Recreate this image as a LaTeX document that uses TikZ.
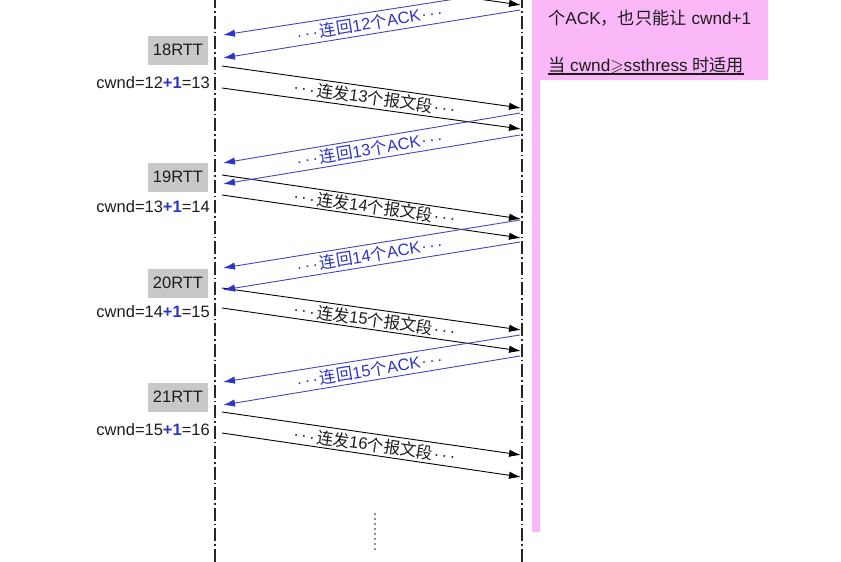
\documentclass[tikz,border=0pt]{standalone}
\usepackage{fontspec}
\usepackage{amssymb}
\setmainfont{Liberation Sans}
\newfontfamily\cjk{Noto Sans CJK SC}
\usetikzlibrary{arrows.meta}
\definecolor{ackblue}{RGB}{45,52,200}
\definecolor{ackline}{RGB}{68,68,190}
\definecolor{pinkbg}{RGB}{250,184,248}
\definecolor{rttgray}{RGB}{200,200,200}
\definecolor{txt}{RGB}{28,28,28}
\newcommand\tdots{\kern1pt·\kern2.5pt·\kern2.5pt·\kern2pt}
\begin{document}
\begin{tikzpicture}[x=1pt,y=-1pt,
  font=\fontsize{16.5}{20}\selectfont,
  lifeline/.style={line width=1.2pt, dash pattern=on 13pt off 3pt on 1.5pt off 3pt, black!85},
  sendarrow/.style={line width=0.9pt, black, -{Latex[length=12pt,width=7.5pt]}},
  ackarrow/.style={line width=0.9pt, ackline, -{Latex[length=12pt,width=7.5pt,color=ackblue]}},
  rttbox/.style={fill=rttgray, minimum width=60pt, minimum height=29pt, inner sep=0pt, text=txt},
  cwndlabel/.style={anchor=east, inner sep=0pt, text=txt},
  sendlabel/.style={rotate=-8, inner sep=0pt, text=txt},
  acklabel/.style={rotate=9.3, inner sep=0pt, text=ackblue},
  notetext/.style={anchor=base west, inner sep=0pt, text=txt, font=\fontsize{17.2}{20}\selectfont}]
\useasboundingbox (0,0) rectangle (841,562);
\clip (0,0) rectangle (841,562);

% pink note area
\fill[pinkbg] (532,-2) -- (768,-2) -- (768,80) -- (540,80) -- (540,532) -- (532,532) -- cycle;
\node[notetext] (note1) at (548,24) {{\cjk 个}ACK{\cjk ，也只能让} cwnd+1};
\node[notetext] (note2) at (548,71) {{\cjk 当} cwnd$\geqslant$ssthress {\cjk 时适用}};
\draw[line width=1.3pt, txt] ([yshift=-3pt]note2.base west) -- ([yshift=-3pt]note2.base east);

% lifelines
\coordinate (LT) at (215,-5);
\coordinate (LB) at (215,570);
\coordinate (RT) at (522,-5);
\coordinate (RB) at (522,570);
\draw[lifeline] (LT) -- (LB);
\draw[lifeline] (RT) -- (RB);

% RTT boxes and cwnd labels
\node[rttbox] (r18) at (178,50) {18RTT};
\node[rttbox] (r19) at (178,177) {19RTT};
\node[rttbox] (r20) at (178,283) {20RTT};
\node[rttbox] (r21) at (178,397) {21RTT};
\node[cwndlabel] (c18) at (210,83) {cwnd=12{\color{ackblue}\bfseries +1}=13};
\node[cwndlabel] (c19) at (210,207) {cwnd=13{\color{ackblue}\bfseries +1}=14};
\node[cwndlabel] (c20) at (210,312) {cwnd=14{\color{ackblue}\bfseries +1}=15};
\node[cwndlabel] (c21) at (210,430) {cwnd=15{\color{ackblue}\bfseries +1}=16};

% send endpoints
\coordinate (s17b) at (222,-37); \coordinate (e17b) at (521,5);
\coordinate (s18a) at (222,66);  \coordinate (e18a) at (521,108);
\coordinate (s18b) at (222,88);  \coordinate (e18b) at (521,129);
\coordinate (s19a) at (222,175); \coordinate (e19a) at (521,219);
\coordinate (s19b) at (222,195); \coordinate (e19b) at (521,238);
\coordinate (s20a) at (222,288); \coordinate (e20a) at (521,330);
\coordinate (s20b) at (222,308); \coordinate (e20b) at (521,351);
\coordinate (s21a) at (222,412); \coordinate (e21a) at (521,455);
\coordinate (s21b) at (222,433); \coordinate (e21b) at (521,477);
\foreach \n in {17b,18a,18b,19a,19b,20a,20b,21a,21b}
  \draw[sendarrow] (s\n) -- (e\n);

% ack endpoints
\coordinate (a12a) at (520,-11); \coordinate (b12a) at (223,35);
\coordinate (a12b) at (520,10);  \coordinate (b12b) at (223,58);
\coordinate (a13a) at (520,113); \coordinate (b13a) at (223,163);
\coordinate (a13b) at (520,135); \coordinate (b13b) at (223,184);
\coordinate (a14a) at (520,220); \coordinate (b14a) at (223,268);
\coordinate (a14b) at (520,242); \coordinate (b14b) at (223,290);
\coordinate (a15a) at (520,335); \coordinate (b15a) at (223,382);
\coordinate (a15b) at (520,356); \coordinate (b15b) at (223,405);
\foreach \n in {12a,12b,13a,13b,14a,14b,15a,15b}
  \draw[ackarrow] (a\n) -- (b\n);

% labels
\node[acklabel] (l12) at (370,23) {\tdots{\cjk 连回}12{\cjk 个}ACK\tdots};
\node[sendlabel] (l13) at (375,98) {\tdots{\cjk 连发}13{\cjk 个报文段}\tdots};
\node[acklabel] (l13a) at (370,149) {\tdots{\cjk 连回}13{\cjk 个}ACK\tdots};
\node[sendlabel] (l14) at (375,207) {\tdots{\cjk 连发}14{\cjk 个报文段}\tdots};
\node[acklabel] (l14a) at (370,255) {\tdots{\cjk 连回}14{\cjk 个}ACK\tdots};
\node[sendlabel] (l15) at (375,320) {\tdots{\cjk 连发}15{\cjk 个报文段}\tdots};
\node[acklabel] (l15a) at (370,370) {\tdots{\cjk 连回}15{\cjk 个}ACK\tdots};
\node[sendlabel] (l16) at (375,445) {\tdots{\cjk 连发}16{\cjk 个报文段}\tdots};

% continuation dots
\coordinate (vd1) at (375,514);
\coordinate (vd2) at (375,550);
\draw[line width=1.8pt, line cap=round, dash pattern=on 0pt off 5pt, txt] (vd1) -- (vd2);
\end{tikzpicture}
\end{document}
